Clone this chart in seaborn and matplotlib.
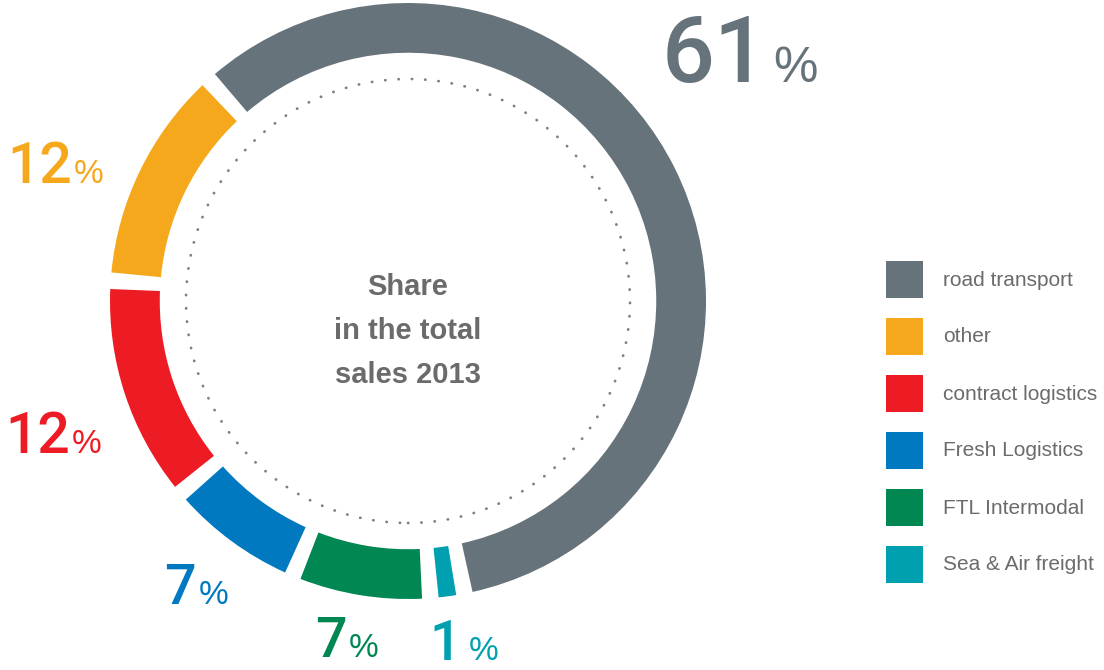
import matplotlib
matplotlib.use("Agg")
import matplotlib.pyplot as plt
from matplotlib.patches import Circle, Rectangle
import seaborn as sns

# Données
segments = ['road transport', 'other', 'contract logistics',
            'Fresh Logistics', 'FTL Intermodal', 'Sea & Air freight']
shares = [61, 12, 12, 7, 7, 1]
hex_colors = ['#67737A', '#F6A81C', '#ED1C24', '#0079C1', '#008752', '#00A0B1']
center_title = 'Share\nin the total\nsales 2013'

sns.set_theme(style='white')
plt.rcParams['font.family'] = ['Liberation Sans', 'DejaVu Sans']
palette = sns.color_palette(hex_colors)
num_font = ['Roboto', 'Liberation Sans', 'DejaVu Sans']

W, H = 1104, 670
fig = plt.figure(figsize=(W / 100, H / 100), dpi=100)
fig.patch.set_facecolor('white')

# Axe du donut (centre ~ (408, 301) px, rayon ext. ~298 px)
cx, cy, R = 408, 301, 298
ax = fig.add_axes([(cx - R) / W, (H - cy - R) / H, 2 * R / W, 2 * R / H])

# espaces blancs entre les segments, en degres
gap_deg = 3.2
n = len(shares)
gap = gap_deg * sum(shares) / (360 - n * gap_deg)
values, cols = [], []
for v, c in zip(shares, palette):
    values += [v, gap]
    cols += [c, (1, 1, 1, 0)]

gap_center = 132  # ecart entre "road transport" et "other"
grey_deg = 360 * shares[0] / sum(values)
start = gap_center - gap_deg / 2 - grey_deg
ax.pie(values, colors=cols, startangle=start, counterclock=True, radius=1,
       wedgeprops=dict(width=0.167, linewidth=0))
ax.add_patch(Circle((0, 0), 222 / R, fill=False, edgecolor='#808080',
                    linewidth=2.0, linestyle=(0, (0.1, 4.7)), capstyle='round'))
ax.set_xlim(-1, 1)
ax.set_ylim(-1, 1)
ax.set_aspect('equal')
ax.axis('off')

# Texte central
fig.text(408 / W, 1 - 331 / H, center_title, ha='center', va='center',
         fontsize=21, color='#6A6B6D', fontweight='bold', linespacing=1.74)

# Etiquettes: (x droite du nombre, x gauche du %, ligne de base, taille nombre, taille %)
label_pos = [(767, 773, 82, 67, 36),
             (72, 74, 183, 41, 24),
             (70, 72, 453, 41, 24),
             (196, 199, 604, 40, 24),
             (347, 349, 657, 40, 24),
             (461, 469, 660, 40, 24)]
for pct, col, (xr, xl, yb, fs_num, fs_pct) in zip(shares, palette, label_pos):
    fig.text(xr / W, 1 - yb / H, str(pct), ha='right', va='baseline',
             fontsize=fs_num, color=col, family=num_font, fontweight='medium')
    fig.text(xl / W, 1 - yb / H, '%', ha='left', va='baseline',
             fontsize=fs_pct, color=col)

# Legende (carres de 37 px, pas de 57 px)
for i, (name, col) in enumerate(zip(segments, palette)):
    top = 261 + 57 * i
    fig.add_artist(Rectangle((886 / W, 1 - (top + 37) / H), 37 / W, 37 / H,
                             transform=fig.transFigure, facecolor=col,
                             edgecolor='none'))
    fig.text(943 / W, 1 - (top + 19) / H, name, ha='left', va='center',
             fontsize=15, color='#6A6B6D')

fig.savefig('out.png', dpi=100, facecolor='white')
plt.close(fig)
